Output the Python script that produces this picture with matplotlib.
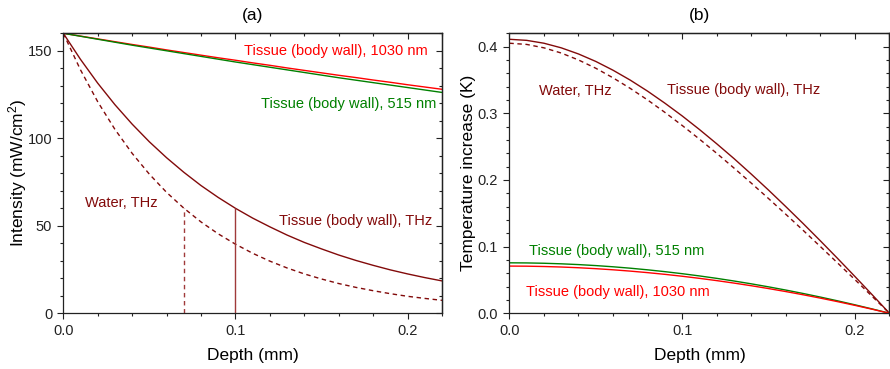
import matplotlib
matplotlib.use("Agg")
import matplotlib.pyplot as plt
from matplotlib.ticker import MultipleLocator

plt.rcParams['font.family'] = ['Liberation Sans', 'DejaVu Sans']
plt.rcParams['mathtext.fontset'] = 'custom'
plt.rcParams['mathtext.rm'] = 'Liberation Sans'
plt.rcParams['mathtext.default'] = 'regular'

# ---------------- data ----------------
depth = [0.00, 0.01, 0.02, 0.03, 0.04, 0.05, 0.06, 0.07, 0.08, 0.09, 0.10,
         0.11, 0.12, 0.13, 0.14, 0.15, 0.16, 0.17, 0.18, 0.19, 0.20, 0.21, 0.22]

# (a) intensity, mW/cm^2
int_1030 = [160, 158.4, 156.8, 155.2, 153.6, 152.1, 150.5, 149.0, 147.5, 146.0, 144.6,
            143.1, 141.7, 140.2, 138.8, 137.4, 136.0, 134.7, 133.3, 132.0, 130.6, 129.3, 128.0]
int_515 = [160, 158.3, 156.6, 154.9, 153.2, 151.6, 150.0, 148.4, 146.8, 145.2, 143.6,
           142.1, 140.6, 139.1, 137.6, 136.1, 134.6, 133.2, 131.8, 130.4, 129.0, 127.6, 126.2]
int_thz_tissue = [160, 145.1, 131.5, 119.2, 108.1, 98.0, 88.9, 80.6, 73.0, 66.2, 60.0,
                  54.4, 49.4, 44.7, 40.5, 36.8, 33.3, 30.2, 27.4, 24.8, 22.5, 20.4, 18.5]
int_thz_water = [160, 139.1, 120.9, 105.1, 91.4, 79.5, 69.1, 60.1, 52.2, 45.4, 39.5,
                 34.3, 29.8, 25.9, 22.5, 19.6, 17.0, 14.8, 12.9, 11.2, 9.7, 8.5, 7.4]
# penetration-depth markers: (depth, intensity)
mark_tissue = (0.10, 60.0)
mark_water = (0.07, 60.1)

# (b) temperature increase, K
temp_thz_tissue = [0.4110, 0.4094, 0.4051, 0.3982, 0.3890, 0.3778, 0.3646, 0.3497, 0.3332,
                   0.3152, 0.2961, 0.2757, 0.2543, 0.2321, 0.2088, 0.1848, 0.1600, 0.1347,
                   0.1087, 0.0822, 0.0552, 0.0278, 0.0]
temp_thz_water = [0.4051, 0.4033, 0.3982, 0.3904, 0.3800, 0.3676, 0.3532, 0.3373, 0.3200,
                  0.3014, 0.2818, 0.2613, 0.2400, 0.2179, 0.1953, 0.1721, 0.1485, 0.1245,
                  0.1001, 0.0754, 0.0505, 0.0253, 0.0]
temp_515 = [0.0757, 0.07553, 0.07503, 0.07420, 0.07304, 0.07155, 0.06975, 0.06763, 0.06519,
            0.06245, 0.05940, 0.05604, 0.05239, 0.04843, 0.04419, 0.03965, 0.03483, 0.02971,
            0.02432, 0.01865, 0.01271, 0.00649, 0.0]
temp_1030 = [0.0708, 0.07064, 0.07017, 0.06940, 0.06831, 0.06692, 0.06523, 0.06325, 0.06097,
             0.05841, 0.05556, 0.05241, 0.04900, 0.04530, 0.04133, 0.03708, 0.03258, 0.02779,
             0.02275, 0.01744, 0.01189, 0.00607, 0.0]

# ---------------- style ----------------
RED = '#ff0000'
GREEN = '#008000'
WINE = '#820a0a'
LW = 1.0
DASH = (3.2, 2.6)
FS_TICK = 10.5
FS_LAB = 12.5

fig = plt.figure(figsize=(8.9, 3.69), dpi=100)
axA = fig.add_axes([0.0711, 0.151, 0.4255, 0.7588])
axB = fig.add_axes([0.5723, 0.151, 0.4271, 0.7588])


def style_axes(ax, xmaj, xmin, ymaj, ymin):
    ax.xaxis.set_major_locator(MultipleLocator(xmaj))
    ax.xaxis.set_minor_locator(MultipleLocator(xmin))
    ax.yaxis.set_major_locator(MultipleLocator(ymaj))
    ax.yaxis.set_minor_locator(MultipleLocator(ymin))
    ax.tick_params(which='both', direction='out', top=False, right=False,
                   labelsize=FS_TICK, width=0.8, colors='#222222')
    ax.tick_params(which='major', length=4.5)
    ax.tick_params(which='minor', length=2.5)
    for s in ax.spines.values():
        s.set_linewidth(0.9)
        s.set_color('#222222')
    sx = ax.secondary_xaxis('top')
    sx.xaxis.set_major_locator(MultipleLocator(xmaj))
    sx.xaxis.set_minor_locator(MultipleLocator(xmin))
    sx.tick_params(which='both', direction='in', labeltop=False, width=0.8, colors='#222222')
    sx.tick_params(which='major', length=4.5)
    sx.tick_params(which='minor', length=2.5)
    sx.spines['top'].set_linewidth(0.9)
    sy = ax.secondary_yaxis('right')
    sy.yaxis.set_major_locator(MultipleLocator(ymaj))
    sy.yaxis.set_minor_locator(MultipleLocator(ymin))
    sy.tick_params(which='both', direction='in', labelright=False, width=0.8, colors='#222222')
    sy.tick_params(which='major', length=4.5)
    sy.tick_params(which='minor', length=2.5)
    sy.spines['right'].set_linewidth(0.9)


# ---------------- panel (a) ----------------
axA.plot(depth, int_1030, color=RED, lw=LW)
axA.plot(depth, int_515, color=GREEN, lw=LW)
axA.plot(depth, int_thz_tissue, color=WINE, lw=LW)
axA.plot(depth, int_thz_water, color=WINE, lw=LW, dashes=DASH)
axA.vlines(mark_tissue[0], 0, mark_tissue[1], color='#a03a3a', lw=1.0)
axA.vlines(mark_water[0], 0, mark_water[1], color='#a03a3a', lw=1.0, linestyles=[(0, DASH)])
axA.set_xlim(0, 0.22)
axA.set_ylim(0, 160)
style_axes(axA, 0.1, 0.02, 50, 10)
axA.xaxis.set_major_formatter(matplotlib.ticker.FormatStrFormatter('%.1f'))
axA.set_xlabel('Depth (mm)', fontsize=FS_LAB)
axA.set_ylabel('Intensity (mW/cm$^{2}$)', fontsize=FS_LAB)
axA.xaxis.set_label_coords(0.5, -0.125)
axA.yaxis.set_label_coords(-0.091, 0.5)

axA.text(0.212, 150, 'Tissue (body wall), 1030 nm', color=RED, fontsize=FS_TICK,
         ha='right', va='center')
axA.text(0.2165, 119.7, 'Tissue (body wall), 515 nm', color=GREEN, fontsize=FS_TICK,
         ha='right', va='center')
axA.text(0.0126, 63, 'Water, THz', color=WINE, fontsize=FS_TICK, ha='left', va='center')
axA.text(0.1256, 53, 'Tissue (body wall), THz', color=WINE, fontsize=FS_TICK,
         ha='left', va='center')

# ---------------- panel (b) ----------------
axB.plot(depth, temp_thz_tissue, color=WINE, lw=LW)
axB.plot(depth, temp_thz_water, color=WINE, lw=LW, dashes=DASH)
axB.plot(depth, temp_515, color=GREEN, lw=LW)
axB.plot(depth, temp_1030, color=RED, lw=LW)
axB.set_xlim(0, 0.22)
axB.set_ylim(0, 0.42)
style_axes(axB, 0.1, 0.02, 0.1, 0.02)
axB.xaxis.set_major_formatter(matplotlib.ticker.FormatStrFormatter('%.1f'))
axB.yaxis.set_major_formatter(matplotlib.ticker.FormatStrFormatter('%.1f'))
axB.set_xlabel('Depth (mm)', fontsize=FS_LAB)
axB.set_ylabel('Temperature increase (K)', fontsize=FS_LAB)
axB.xaxis.set_label_coords(0.5, -0.125)
axB.yaxis.set_label_coords(-0.088, 0.5)

axB.text(0.0173, 0.334, 'Water, THz', color=WINE, fontsize=FS_TICK, ha='left', va='center')
axB.text(0.0913, 0.335, 'Tissue (body wall), THz', color=WINE, fontsize=FS_TICK,
         ha='left', va='center')
axB.text(0.0114, 0.0937, 'Tissue (body wall), 515 nm', color=GREEN, fontsize=FS_TICK,
         ha='left', va='center')
axB.text(0.0097, 0.0314, 'Tissue (body wall), 1030 nm', color=RED, fontsize=FS_TICK,
         ha='left', va='center')

fig.text(0.2838, 0.9575, '(a)', fontsize=FS_LAB, ha='center', va='center')
fig.text(0.7858, 0.9575, '(b)', fontsize=FS_LAB, ha='center', va='center')

fig.savefig('out.png', dpi=100)
